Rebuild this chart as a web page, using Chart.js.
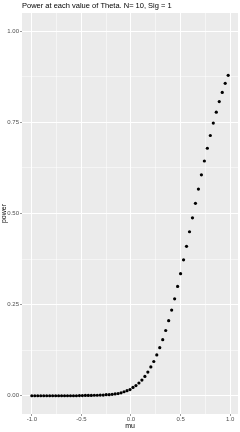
<!DOCTYPE html>
<html>
<head>
<meta charset="utf-8">
<script src="https://cdn.jsdelivr.net/npm/chart.js@4/dist/chart.umd.min.js"></script>
<style>
  html, body { margin: 0; padding: 0; background: #fff; }
  #wrap { width: 240px; height: 432px; }
</style>
</head>
<body>
<div id="wrap"><canvas id="powerChart" width="240" height="432"></canvas></div>
<script>
const titleText = "Power at each value of Theta. N= 10, Sig = 1";

const mu = [
  -1.00, -0.97, -0.94, -0.91, -0.88, -0.85, -0.82, -0.79, -0.76, -0.73,
  -0.70, -0.67, -0.64, -0.61, -0.58, -0.55, -0.52, -0.49, -0.46, -0.43,
  -0.40, -0.37, -0.34, -0.31, -0.28, -0.25, -0.22, -0.19, -0.16, -0.13,
  -0.10, -0.07, -0.04, -0.01, 0.02, 0.05, 0.08, 0.11, 0.14, 0.17,
  0.20, 0.23, 0.26, 0.29, 0.32, 0.35, 0.38, 0.41, 0.44, 0.47,
  0.50, 0.53, 0.56, 0.59, 0.62, 0.65, 0.68, 0.71, 0.74, 0.77,
  0.80, 0.83, 0.86, 0.89, 0.92, 0.95, 0.98
];

const power = [
  0.000, 0.000, 0.000, 0.000, 0.000, 0.000, 0.000, 0.000, 0.000, 0.000,
  0.000, 0.000, 0.000, 0.000, 0.000, 0.000, 0.0005, 0.0005, 0.001, 0.001,
  0.001, 0.0015, 0.0015, 0.002, 0.002, 0.003, 0.003, 0.004, 0.005, 0.006,
  0.008, 0.011, 0.014, 0.017, 0.023, 0.028, 0.035, 0.043, 0.053, 0.065,
  0.079, 0.094, 0.112, 0.132, 0.154, 0.179, 0.206, 0.235, 0.266, 0.300,
  0.335, 0.373, 0.410, 0.450, 0.488, 0.528, 0.567, 0.606, 0.644, 0.679,
  0.714, 0.748, 0.778, 0.807, 0.832, 0.857, 0.879
];

const xTicks = [-1, -0.75, -0.5, -0.25, 0, 0.25, 0.5, 0.75, 1];
const xLabels = ["-1.0", "", "-0.5", "", "0.0", "", "0.5", "", "1.0"];
const yTicks = [0, 0.125, 0.25, 0.375, 0.5, 0.625, 0.75, 0.875, 1];
const yLabels = ["0.00", "", "0.25", "", "0.50", "", "0.75", "", "1.00"];

const points = mu.map((m, i) => ({ x: m, y: power[i] }));

const isMajor = (labels, ctx) => ctx.tick && labels[ctx.index] !== "";

// grey ggplot panel + title
const panelBg = {
  id: "panelBg",
  beforeDraw(chart) {
    const { ctx, chartArea: a } = chart;
    ctx.save();
    ctx.fillStyle = "#EBEBEB";
    ctx.fillRect(a.left, a.top, a.right - a.left, a.bottom - a.top);
    ctx.restore();
  },
  afterDraw(chart) {
    const { ctx, chartArea: a } = chart;
    ctx.save();
    ctx.fillStyle = "#000";
    ctx.font = "7.5px 'Liberation Sans', Arial, sans-serif";
    ctx.textBaseline = "middle";
    ctx.fillText(titleText, a.left, 6);
    ctx.restore();
  }
};

new Chart(document.getElementById("powerChart"), {
  type: "scatter",
  data: {
    datasets: [{
      data: points,
      pointRadius: 1.6,
      pointHoverRadius: 1.6,
      pointBackgroundColor: "#000",
      pointBorderWidth: 0,
      showLine: false
    }]
  },
  options: {
    responsive: false,
    animation: false,
    layout: { padding: { top: 13, right: 2, left: 0, bottom: 0 } },
    plugins: {
      legend: { display: false },
      tooltip: { enabled: false }
    },
    scales: {
      x: {
        type: "linear",
        min: -1.099,
        max: 1.079,
        afterBuildTicks: s => { s.ticks = xTicks.map(v => ({ value: v })); },
        afterFit: s => { s.height = 18; },
        border: { display: false },
        grid: {
          color: "#FFFFFF",
          lineWidth: ctx => isMajor(xLabels, ctx) ? 1 : 0.5,
          tickColor: ctx => isMajor(xLabels, ctx) ? "#333333" : "rgba(0,0,0,0)",
          tickLength: 2,
          tickWidth: 0.5
        },
        ticks: {
          autoSkip: false,
          maxRotation: 0,
          padding: 0,
          color: "#4D4D4D",
          font: { family: "'Liberation Sans', Arial, sans-serif", size: 6 },
          callback: (v, i) => xLabels[i]
        },
        title: {
          display: true,
          text: "mu",
          color: "#000",
          padding: { top: 0, bottom: 2 },
          font: { family: "'Liberation Sans', Arial, sans-serif", size: 7 }
        }
      },
      y: {
        type: "linear",
        min: -0.05,
        max: 1.05,
        afterBuildTicks: s => { s.ticks = yTicks.map(v => ({ value: v })); },
        afterFit: s => { s.width = 22; },
        border: { display: false },
        grid: {
          color: "#FFFFFF",
          lineWidth: ctx => isMajor(yLabels, ctx) ? 1 : 0.5,
          tickColor: ctx => isMajor(yLabels, ctx) ? "#333333" : "rgba(0,0,0,0)",
          tickLength: 2,
          tickWidth: 0.5
        },
        ticks: {
          autoSkip: false,
          padding: 1,
          color: "#4D4D4D",
          font: { family: "'Liberation Sans', Arial, sans-serif", size: 6 },
          callback: (v, i) => yLabels[i]
        },
        title: {
          display: true,
          text: "power",
          color: "#000",
          padding: { top: 0, bottom: 0 },
          font: { family: "'Liberation Sans', Arial, sans-serif", size: 7 }
        }
      }
    }
  },
  plugins: [panelBg]
});
</script>
</body>
</html>
